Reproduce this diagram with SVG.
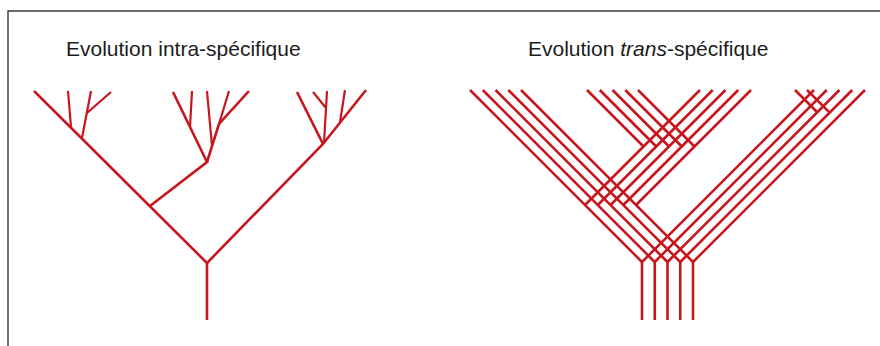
<svg xmlns="http://www.w3.org/2000/svg" width="880" height="346" viewBox="0 0 880 346">
<style>
.frame{fill:none;stroke:#3a3a3a;stroke-width:1.4}
.ln{fill:none;stroke:#c8161e;stroke-width:2.6;stroke-linecap:butt;stroke-linejoin:miter}
.tw{fill:none;stroke:#c8161e;stroke-width:2.2;stroke-linecap:butt}
.title{font-family:"Liberation Sans",Arial,sans-serif;font-size:21px;fill:#1c1c1c}
</style>
<rect width="880" height="346" fill="#ffffff"/>
<g id="frame">
<path class="frame" d="M8,346 V11 H880"/>
</g>
<g id="title-intra"><text class="title" x="66" y="56">Evolution intra-spécifique</text></g>
<g id="title-trans"><text class="title" x="528" y="56">Evolution <tspan font-style="italic">trans</tspan>-spécifique</text></g>
<g id="tree-intra">
<path class="ln" d="M207,320 V263 L34,91"/>
<path class="ln" d="M207,263 L323,144 L366,90"/>
<path class="ln" d="M150,206 L207,162 L173,92"/>
<path class="ln" d="M207,162 L219,124 L249,91"/>
<path class="tw" d="M192,91 L190,127 M207,91 L212,146 M229,91 L219,124"/>
<path class="tw" d="M68,91 L71,127 M91,91 L82,138 M111,92 L87,113"/>
<path class="ln" d="M323,144 L297,92"/>
<path class="tw" d="M327,91 L324,143 M313,92 L326,108 M345,90 L340,122"/>
</g>
<g id="tree-trans">
<g id="trunks">
<path class="ln" d="M642,320 V262 M654.75,320 V262 M667.5,320 V262 M680.25,320 V262 M693,320 V262"/>
</g>
<g id="left-bundle">
<path class="ln" d="M642,262 L470,90 M654.75,262 L482.75,90 M667.5,262 L495.5,90 M680.25,262 L508.25,90 M693,262 L521,90"/>
</g>
<g id="right-bundle">
<path class="ln" d="M642,262 L814,90 M654.75,262 L826.75,90 M667.5,262 L839.5,90 M680.25,262 L852.25,90 M693,262 L865,90"/>
<path class="ln" d="M817.25,112.25 L795,90 M829.6,112.6 L807,90"/>
</g>
<g id="middle-bundle">
<path class="ln" d="M585,205 L700,90 M597.75,205 L712.75,90 M610.5,205 L725.5,90 M623.25,205 L738.25,90 M636,205 L751,90"/>
<path class="ln" d="M643.5,146.5 L587,90 M656.25,146.5 L599.75,90 M669,146.5 L612.5,90 M681.75,146.5 L625.25,90 M694.5,146.5 L638,90"/>
</g>
</g>
</svg>
